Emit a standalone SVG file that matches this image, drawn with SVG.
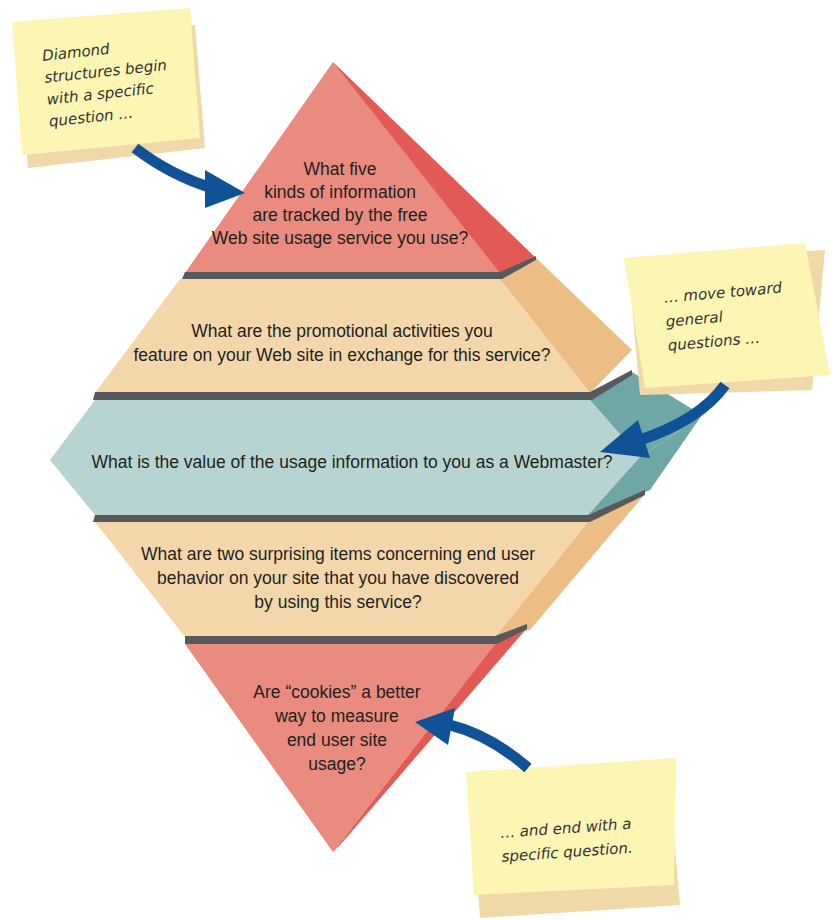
<svg xmlns="http://www.w3.org/2000/svg" width="832" height="921" viewBox="0 0 832 921">
<style>
.q{font-family:"Liberation Sans Narrow","Liberation Sans",sans-serif;font-size:17.5px;fill:#231f20;text-anchor:middle}
.h{font-family:"DejaVu Sans",sans-serif;font-size:15px;fill:#333;font-style:italic}
.gap{fill:#58595b}
.note{fill:#fdf5b3}
.shadow{fill:#f0d9a8}
.arr{fill:none;stroke:#0f5296;stroke-width:11}
.head{fill:#0f5296}
</style>
<rect width="832" height="921" fill="#fff"/>
<g id="band1">
<polygon points="333,62 510,258 500,273 185,273" fill="#e98b7f"/>
<polygon points="333,62 536,258 500,273" fill="#e35a55"/>
<text class="q"><tspan x="340" y="175">What five</tspan><tspan x="340" y="198">kinds of information</tspan><tspan x="340" y="221">are tracked by the free</tspan><tspan x="340" y="244">Web site usage service you use?</tspan></text>
</g>
<g id="band2">
<polygon points="180,279 500,279 590,393 95,393" fill="#f3d7aa"/>
<polygon points="500,279 536,258 632,350 590,393" fill="#ecbd85"/>
<text class="q"><tspan x="342" y="337">What are the promotional activities you</tspan><tspan x="342" y="361">feature on your Web site in exchange for this service?</tspan></text>
</g>
<g id="band3">
<polygon points="95,400 590,400 640,457 588,515 95,515 50,460" fill="#b8d4d2"/>
<polygon points="590,400 632,372 702,415 640,457" fill="#6fa7a6"/>
<polygon points="640,457 702,415 650,490 588,515" fill="#6fa7a6"/>
<text class="q" x="352" y="468">What is the value of the usage information to you as a Webmaster?</text>
</g>
<g id="band4">
<polygon points="95,522 588,522 495,637 185,637" fill="#f3d7aa"/>
<polygon points="588,522 645,494 530,630 495,637" fill="#ecbd85"/>
<text class="q"><tspan x="338" y="560">What are two surprising items concerning end user</tspan><tspan x="338" y="584">behavior on your site that you have discovered</tspan><tspan x="338" y="608">by using this service?</tspan></text>
</g>
<g id="band5">
<polygon points="185,644 495,644 333,852" fill="#e98b7f"/>
<polygon points="495,644 527,628 340,845 333,852" fill="#e35a55"/>
<text class="q"><tspan x="337" y="698">Are “cookies” a better</tspan><tspan x="337" y="722">way to measure</tspan><tspan x="337" y="746">end user site</tspan><tspan x="337" y="770">usage?</tspan></text>
</g>
<g id="gaps">
<polygon class="gap" points="185,272 500,272 536,256 536,260 502,279 182,279"/>
<polygon class="gap" points="95,392 590,392 632,370 632,375 592,400 93,400"/>
<polygon class="gap" points="95,515 588,515 645,490 645,495 590,522 93,522"/>
<polygon class="gap" points="185,636 495,636 527,624 527,629 497,644 185,644"/>
</g>
<g id="note1">
<polygon class="shadow" points="18,40 195,25 205,148 28,168"/>
<polygon class="note" points="12,22 190,8 200,138 22,155"/>
<text class="h" transform="rotate(-6 100 80)"><tspan x="45" y="55">Diamond</tspan><tspan x="45" y="77">structures begin</tspan><tspan x="45" y="99">with a specific</tspan><tspan x="45" y="121">question …</tspan></text>
</g>
<g id="note2">
<polygon class="shadow" points="628,262 825,250 812,390 640,395"/>
<polygon class="note" points="624,258 805,243 830,375 645,388"/>
<text class="h" transform="rotate(-5 720 310)"><tspan x="665" y="298">… move toward</tspan><tspan x="665" y="322">general</tspan><tspan x="665" y="346">questions …</tspan></text>
</g>
<g id="note3">
<polygon class="shadow" points="470,780 668,770 680,905 480,918"/>
<polygon class="note" points="466,772 676,758 674,885 474,895"/>
<text class="h" transform="rotate(-4 570 830)"><tspan x="500" y="833">… and end with a</tspan><tspan x="500" y="857">specific question.</tspan></text>
</g>
<g id="connectors">
<path class="arr" d="M135,148 Q170,175 212,188"/>
<polygon class="head" points="205,170 245,193 205,208"/>
<path class="arr" d="M725,385 Q700,420 640,440"/>
<polygon class="head" points="638,420 600,452 650,458"/>
<path class="arr" d="M528,768 Q490,735 450,725"/>
<polygon class="head" points="455,708 415,722 448,745"/>
</g>
</svg>
